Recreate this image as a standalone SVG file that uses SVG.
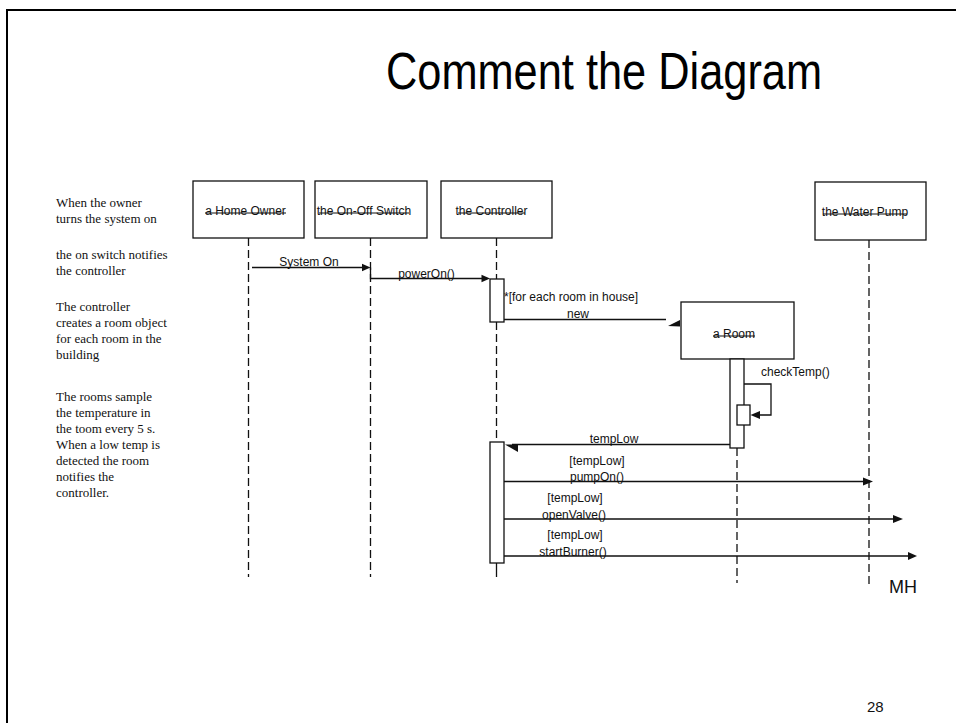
<svg xmlns="http://www.w3.org/2000/svg" width="956" height="723" viewBox="0 0 956 723">
  <style>
    .box { fill: #fff; stroke: #111; stroke-width: 1.3; }
    .act { fill: #fff; stroke: #111; stroke-width: 1.3; }
    .life { fill: none; stroke: #111; stroke-width: 1.3; stroke-dasharray: 8 4; }
    .solid { fill: none; stroke: #111; stroke-width: 1.3; }
    .msg { fill: none; stroke: #111; stroke-width: 1.3; }
    .head { fill: #111; stroke: none; }
    .lbl { font-family: "Liberation Sans", Arial, sans-serif; font-size: 12px; fill: #111; }
    .name { font-family: "Liberation Sans", Arial, sans-serif; font-size: 12px; fill: #111; text-anchor: middle; }
    .uline { stroke: #111; stroke-width: 1; }
    .note { font-family: "Liberation Serif", "Times New Roman", serif; font-size: 13px; fill: #111; }
    .title { font-family: "Liberation Sans", Arial, sans-serif; font-size: 52px; fill: #000; }
  </style>

  <rect width="956" height="723" fill="#fff"/>
  <!-- slide frame -->
  <path d="M7,723 V10 H956" fill="none" stroke="#000" stroke-width="2"/>

  <!-- narrow title: regular face squeezed horizontally -->
  <text class="title" transform="translate(604 89) scale(0.834 1)" text-anchor="middle">Comment the Diagram</text>

  <!-- side notes -->
  <g id="notes" class="note">
    <text x="56" y="207">When the owner</text>
    <text x="56" y="222.5">turns the system on</text>
    <text x="56" y="259">the on switch notifies</text>
    <text x="56" y="275">the controller</text>
    <text x="56" y="311">The controller</text>
    <text x="56" y="327">creates a room object</text>
    <text x="56" y="343">for each room in the</text>
    <text x="56" y="359">building</text>
    <text x="56" y="400.5">The rooms sample</text>
    <text x="56" y="416.5">the temperature in</text>
    <text x="56" y="433">the toom every 5 s.</text>
    <text x="56" y="449">When a low temp is</text>
    <text x="56" y="464.5">detected the room</text>
    <text x="56" y="480.5">notifies the</text>
    <text x="56" y="496.5">controller.</text>
  </g>

  <!-- lifeline heads -->
  <g id="home-owner">
    <rect class="box" x="193" y="181" width="111" height="57"/>
    <text class="name" x="245.5" y="215">a Home Owner</text>
    <line class="uline" x1="205" y1="213" x2="286" y2="213"/>
  </g>
  <g id="on-off-switch">
    <rect class="box" x="315" y="181" width="112" height="57"/>
    <text class="name" x="364" y="215">the On-Off Switch</text>
    <line class="uline" x1="319" y1="213" x2="409" y2="213"/>
  </g>
  <g id="controller">
    <rect class="box" x="441" y="181" width="111" height="57"/>
    <text class="name" x="491.5" y="215">the Controller</text>
    <line class="uline" x1="458" y1="213" x2="525" y2="213"/>
  </g>
  <g id="water-pump">
    <rect class="box" x="815" y="182" width="111" height="58"/>
    <text class="name" x="865" y="216">the Water Pump</text>
    <line class="uline" x1="823" y1="214" x2="907" y2="214"/>
  </g>
  <g id="room">
    <rect class="box" x="681" y="302" width="113" height="57"/>
    <text class="name" x="734" y="338">a Room</text>
    <line class="uline" x1="713" y1="336" x2="755" y2="336"/>
  </g>

  <!-- lifelines and activations -->
  <g id="lifelines">
    <line class="life" x1="248.5" y1="238" x2="248.5" y2="577"/>
    <line class="life" x1="370.5" y1="238" x2="370.5" y2="577"/>
    <line class="life" x1="496.5" y1="238" x2="496.5" y2="279"/>
    <line class="life" x1="496.5" y1="322" x2="496.5" y2="442"/>
    <line class="solid" x1="496.5" y1="563" x2="496.5" y2="577"/>
    <line class="life" x1="869" y1="240" x2="869" y2="584"/>
    <line class="life" x1="737" y1="448" x2="737" y2="583"/>
    <rect class="act" x="490" y="279" width="14" height="43"/>
    <rect class="act" x="490" y="442" width="14" height="121"/>
    <rect class="act" x="730" y="359" width="14" height="89"/>
    <rect class="act" x="737" y="405" width="13" height="20"/>
  </g>

  <!-- messages -->
  <g id="connectors">
    <line class="msg" x1="252" y1="267.5" x2="364" y2="267.5"/>
    <polygon class="head" points="370.5,267.5 362,263.8 362,271.2"/>

    <polyline class="msg" points="370.5,267.5 370.5,278.5 482,278.5"/>
    <polygon class="head" points="490,278.5 481.5,274.8 481.5,282.2"/>

    <line class="msg" x1="504" y1="319.5" x2="666" y2="319.5"/>
    <polygon class="head" points="668,326 680,320 680,326.5"/>

    <polyline class="msg" points="744,384 771,384 771,415 758,415"/>
    <polygon class="head" points="750.5,415 760,411 760,419"/>

    <line class="msg" x1="730" y1="444.5" x2="512" y2="444.5"/>
    <polygon class="head" points="505,444.5 518,444.5 518,452"/>

    <line class="msg" x1="504" y1="481.5" x2="864" y2="481.5"/>
    <polygon class="head" points="873,481.5 863,477.5 863,485.5"/>

    <line class="msg" x1="504" y1="519" x2="894" y2="519"/>
    <polygon class="head" points="903,519 893,515 893,523"/>

    <line class="msg" x1="504" y1="556" x2="909" y2="556"/>
    <polygon class="head" points="917,556 908,552 908,560"/>
  </g>

  <!-- message labels -->
  <g id="labels" class="lbl">
    <text x="309" y="266" text-anchor="middle">System On</text>
    <text x="426.5" y="278" text-anchor="middle">powerOn()</text>
    <text x="504" y="301">*[for each room in house]</text>
    <text x="578" y="318" text-anchor="middle">new</text>
    <text x="761" y="376">checkTemp()</text>
    <text x="614" y="443" text-anchor="middle">tempLow</text>
    <text x="597" y="464.5" text-anchor="middle">[tempLow]</text>
    <text x="597" y="481" text-anchor="middle">pumpOn()</text>
    <text x="575" y="501.5" text-anchor="middle">[tempLow]</text>
    <text x="574" y="518.5" text-anchor="middle">openValve()</text>
    <text x="575" y="538.5" text-anchor="middle">[tempLow]</text>
    <text x="573" y="555.5" text-anchor="middle">startBurner()</text>
  </g>

  <text x="889" y="593" font-family="Liberation Sans, Arial, sans-serif" font-size="18" fill="#111">MH</text>
  <text x="867" y="712" font-family="Liberation Sans, Arial, sans-serif" font-size="15" fill="#111">28</text>
</svg>
